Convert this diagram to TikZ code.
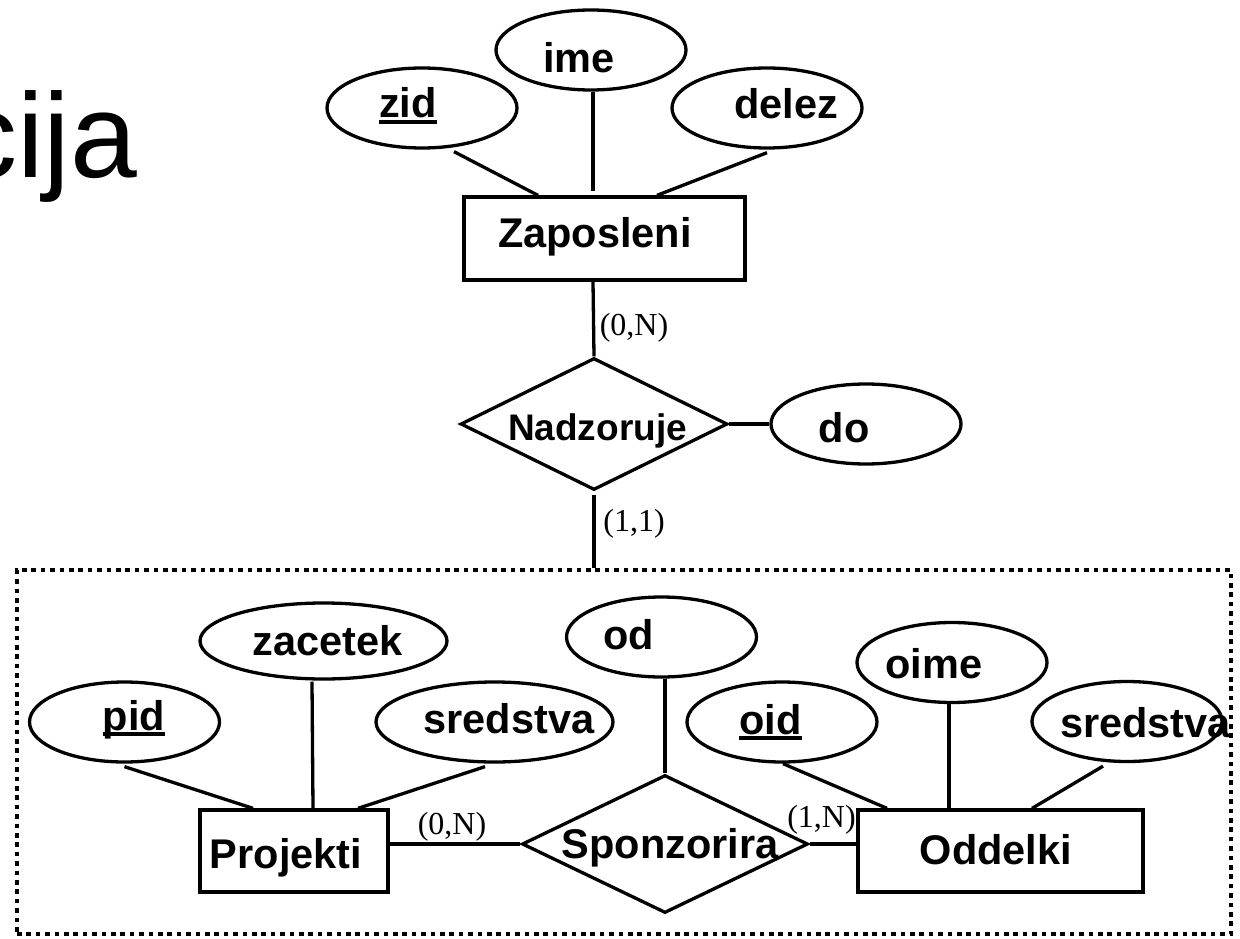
\documentclass[tikz,border=0pt]{standalone}
\usepackage{fontspec}
\setmainfont{Liberation Sans}
\newfontfamily\cardfont{Liberation Serif}
\usetikzlibrary{shapes.geometric}
\begin{document}
\begin{tikzpicture}[x=1pt,y=-1pt,
  conn/.style={line width=3.3pt},
  attr/.style={ellipse, draw, line width=3.3pt, inner sep=0pt,
               minimum width=190pt, minimum height=80pt},
  ent/.style={rectangle, draw, line width=3.3pt, inner sep=0pt, minimum height=82pt},
  rel/.style={diamond, draw, line width=3.3pt, inner sep=0pt},
  lbltext/.style={inner sep=0pt, anchor=base, font=\bfseries\fontsize{41.5}{50}\selectfont},
  card/.style={inner sep=0pt, font=\cardfont\fontsize{32}{38}\selectfont},
  keyline/.style={line width=3.3pt},
  aggbox/.style={draw, line width=3.8pt, dash pattern=on 4.6pt off 4.8pt, inner sep=0pt}
]
\useasboundingbox (0,0) rectangle (1240,939);
\clip (0,0) rectangle (1240,939);

% slide title (tail end)
\node[inner sep=0pt, anchor=base west, font=\fontsize{120}{140}\selectfont] (title) at (-43,178) {cija};

% ---------- Zaposleni and its attributes ----------
\node[ent, minimum width=281pt, minimum height=83pt] (zap) at (604.5,238.5) {};
\node[lbltext] (zapt) at (595,247) {Zaposleni};

\node[attr] (zid) at (422,108) {};
\node[lbltext] (zidt) at (408,118) {zid};
\draw[keyline] ([yshift=-4pt]zidt.base west) -- ([yshift=-4pt]zidt.base east);

\node[attr] (ime) at (591,50) {};
\node[lbltext] (imet) at (579,73) {ime};

\node[attr] (delez) at (767,108) {};
\node[lbltext] (delezt) at (786,119) {delez};

\draw[conn] ([xshift=32pt,yshift=-2pt]zid.south) -- ([xshift=-66.5pt]zap.north);
\draw[conn] ([xshift=2pt]ime.south) -- ([xshift=-11.5pt,yshift=4pt]zap.north);
\draw[conn] ([yshift=-3pt]delez.south) -- ([xshift=52.5pt]zap.north);

% ---------- Nadzoruje ----------
\node[rel, minimum width=267pt, minimum height=132pt] (nad) at (594,424) {};
\node[lbltext, font=\bfseries\fontsize{37}{44}\selectfont] (nadt) at (597.5,440) {Nadzoruje};

\node[attr] (do) at (866,424) {};
\node[lbltext] (dot) at (844,442) {do};

\draw[conn] ([xshift=-11.5pt]zap.south) -- (nad.north);
\draw[conn] (nad.east) -- (do.west);
\node[card] (c1) at (634,328) {(0,N)};

% ---------- aggregation box ----------
\node[aggbox, minimum width=1214pt, minimum height=364pt] (agg) at (624,752) {};
\draw[conn] ([yshift=-3pt]nad.south) -- (nad.south |- agg.north);
\node[card] (c2) at (634,524) {(1,1)};

% ---------- Projekti ----------
\node[ent, minimum width=188pt] (proj) at (294,851) {};
\node[lbltext] (projt) at (286,868) {Projekti};

\node[attr] (pid) at (124.5,722) {};
\node[lbltext] (pidt) at (134,730) {pid};
\draw[keyline] ([yshift=-4pt]pidt.base west) -- ([yshift=-4pt]pidt.base east);

\node[attr, minimum width=247pt, minimum height=76pt] (zac) at (323.5,641) {};
\node[lbltext] (zact) at (327.5,655) {zacetek};

\node[attr, minimum width=237pt] (sredL) at (494.5,722) {};
\node[lbltext] (sredLt) at (509,733) {sredstva};

\draw[conn] ([yshift=-3pt]pid.south) -- ([xshift=-41pt]proj.north);
\draw[conn] ([xshift=-11.5pt,yshift=-1pt]zac.south) -- ([xshift=19pt]proj.north);
\draw[conn] ([xshift=-9.5pt,yshift=-3pt]sredL.south) -- ([xshift=64pt]proj.north);

% ---------- Sponzorira ----------
\node[rel, minimum width=286pt, minimum height=138pt] (spon) at (665,844) {};
\node[lbltext] (spont) at (670,858) {Sponzorira};

\node[attr] (od) at (661.5,637) {};
\node[lbltext] (odt) at (628.5,649) {od};
\draw[conn] (spon.north |- od.south) -- (spon.north);

\draw[conn] (spon.west) -- (spon.west -| proj.east);
\node[card] (c3) at (452,827) {(0,N)};

% ---------- Oddelki ----------
\node[ent, minimum width=285pt] (odd) at (1000.5,851) {};
\node[lbltext] (oddt) at (996,864) {Oddelki};

\node[attr] (oid) at (782,722) {};
\node[lbltext] (oidt) at (770.5,734) {oid};
\draw[keyline] ([yshift=-4pt]oidt.base west) -- ([yshift=-4pt]oidt.base east);

\node[attr] (oime) at (952,662.5) {};
\node[lbltext] (oimet) at (934,678) {oime};

\node[attr] (sredR) at (1127,721.5) {};
\node[lbltext] (sredRt) at (1145.5,737) {sredstva};

\draw[conn] ([xshift=1pt]oid.south) -- ([xshift=-113.5pt]odd.north);
\draw[conn] ([xshift=-3pt]oime.south) -- ([xshift=-51.5pt]odd.north);
\draw[conn] ([xshift=-24pt,yshift=-3pt]sredR.south) -- ([xshift=31.5pt]odd.north);

\draw[conn] (spon.east) -- (spon.east -| odd.west);
\node[card] (c4) at (821.5,820) {(1,N)};
\end{tikzpicture}
\end{document}
